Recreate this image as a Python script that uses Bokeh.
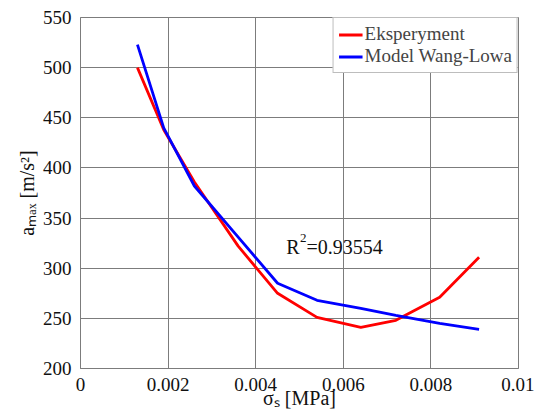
import math
from bokeh.plotting import figure
from bokeh.models import FixedTicker, Label, Legend, LegendItem
from bokeh.embed import file_html
from bokeh.resources import INLINE

# ---- data ----
x_exp = [0.0013, 0.0019, 0.0026, 0.0036, 0.0045, 0.0054, 0.0064, 0.0072, 0.0082, 0.0091]
y_exp = [500, 438, 386, 322, 275, 251, 241, 248, 271, 311]
x_mod = [0.0013, 0.0019, 0.0026, 0.0036, 0.0045, 0.0054, 0.0064, 0.0072, 0.0082, 0.0091]
y_mod = [523, 440, 382, 331, 285, 268, 260, 253, 245, 239]

x_ticks = [0, 0.002, 0.004, 0.006, 0.008, 0.01]
x_tick_labels = ["0", "0.002", "0.004", "0.006", "0.008", "0.01"]
y_ticks = [200, 250, 300, 350, 400, 450, 500, 550]
y_tick_labels = ["200", "250", "300", "350", "400", "450", "500", "550"]

x_title = "σₛ [MPa]"
y_title = "aₘₐₓ [m/s²]"

FONT = "Liberation Serif"
GRID = "#7c7c7c"
TXT = "#111111"

p = figure(width=534, height=412, x_range=(0, 0.01), y_range=(200, 550),
           output_backend="svg", toolbar_location=None,
           min_border_left=80, min_border_right=16, min_border_top=17, min_border_bottom=44)

p.background_fill_color = "white"
p.border_fill_color = "white"
p.outline_line_color = GRID
p.outline_line_width = 1

p.xaxis.ticker = FixedTicker(ticks=x_ticks)
p.yaxis.ticker = FixedTicker(ticks=y_ticks)
p.xaxis.major_label_overrides = {t: l for t, l in zip(x_ticks, x_tick_labels)}
p.yaxis.major_label_overrides = {t: l for t, l in zip(y_ticks, y_tick_labels)}
for axes in (p.xaxis, p.yaxis):
    axes.major_tick_line_color = None
    axes.minor_tick_line_color = None
    axes.axis_line_color = GRID
    axes.major_label_text_font = FONT
    axes.major_label_text_font_size = "19px"
    axes.major_label_text_color = TXT
    axes.axis_label_text_font = FONT
    axes.axis_label_text_font_size = "20px"
    axes.axis_label_text_font_style = "normal"
    axes.axis_label_text_color = TXT
p.xaxis.major_label_standoff = 3
p.yaxis.major_label_standoff = 3
p.xaxis.axis_label = x_title
p.yaxis.axis_label = y_title
p.xaxis.axis_label_standoff = -7
p.yaxis.axis_label_standoff = 2

p.xgrid.ticker = FixedTicker(ticks=x_ticks)
p.ygrid.ticker = FixedTicker(ticks=y_ticks)
for g in (p.xgrid[0], p.ygrid[0]):
    g.grid_line_color = GRID
    g.grid_line_width = 1
    g.grid_line_alpha = 1

r_exp = p.line(x_exp, y_exp, line_color="#ff0000", line_width=2.8)
r_mod = p.line(x_mod, y_mod, line_color="#0000ff", line_width=2.8)

legend = Legend(items=[LegendItem(label="Eksperyment", renderers=[r_exp]),
                       LegendItem(label="Model Wang-Lowa", renderers=[r_mod])],
                location="top_right", margin=0, padding=5, spacing=0,
                glyph_width=24, glyph_height=21, label_height=21, label_standoff=2,
                label_text_font=FONT, label_text_font_size="19px",
                border_line_color=GRID, border_line_width=1,
                background_fill_color="white", background_fill_alpha=1)
p.add_layout(legend)

def lab(x, y, text, size):
    p.add_layout(Label(x=x, y=y, text=text, text_font=FONT, text_font_size=size,
                       text_color=TXT, text_align="left", text_baseline="alphabetic"))

# R^2 annotation
lab(0.00470, 320.7, "R", "20px")
lab(0.00501, 330.6, "2", "13px")
lab(0.00516, 320.7, "=0.93554", "20px")

open("out.html", "w").write(file_html(p, INLINE))
